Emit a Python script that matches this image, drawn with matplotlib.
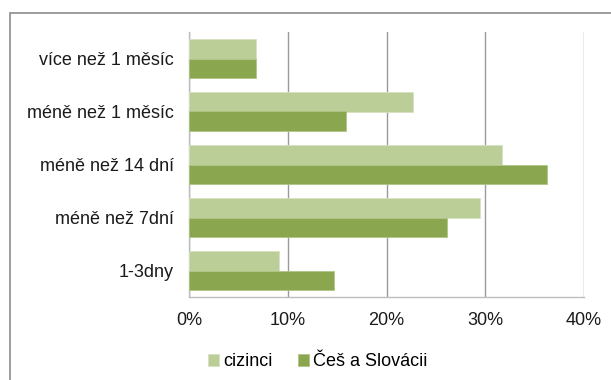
import matplotlib.pyplot as plt
from matplotlib.patches import Rectangle
from matplotlib.ticker import PercentFormatter
import numpy as np

plt.rcParams['font.family'] = ['Liberation Sans', 'DejaVu Sans']

categories = ['1-3dny', 'méně než 7dní', 'méně než 14 dní', 'méně než 1 měsíc', 'více než 1 měsíc']
cizinci = [9.1, 29.5, 31.7, 22.7, 6.8]
cesi = [14.7, 26.1, 36.3, 15.9, 6.8]
series_names = ['cizinci', 'Češ a Slovácii']
light_green = '#BBCE98'
dark_green = '#8AA64E'

fig = plt.figure(figsize=(6.11, 3.80), dpi=100)
ax = fig.add_axes([189 / 611, 1 - 297 / 380, 395 / 611, 265 / 380])

y = np.arange(len(categories))
h = 0.365
ax.barh(y + h / 2, cizinci, height=h, color=light_green, edgecolor='#D5E2C0', linewidth=0.6, label=series_names[0], zorder=3)
ax.barh(y - h / 2, cesi, height=h, color=dark_green, edgecolor='#B0C585', linewidth=0.6, label=series_names[1], zorder=3)

ax.set_xlim(0, 40)
ax.set_ylim(-0.5, len(categories) - 0.5)
ax.set_xticks([0, 10, 20, 30, 40])
ax.xaxis.set_major_formatter(PercentFormatter(decimals=0))
ax.set_yticks(y)
ax.set_yticklabels(categories)
ax.tick_params(axis='both', length=0, labelsize=13, colors='#1a1a1a')
ax.tick_params(axis='x', pad=11)
ax.tick_params(axis='y', pad=11)

ax.grid(axis='x', color='#9a9a9a', linewidth=1.0, zorder=0)
for side in ['top', 'right']:
    ax.spines[side].set_visible(False)
for side in ['left', 'bottom']:
    ax.spines[side].set_color('#bdbdbd')
    ax.spines[side].set_linewidth(1.0)

# outer chart frame, open on the right and bottom
fig.patches.append(Rectangle((9.5 / 611, -0.1), 1.0, 1.1 - 13 / 380,
                             transform=fig.transFigure, fill=False,
                             edgecolor='#8c8c8c', linewidth=1.2))

fig.legend(loc='center', bbox_to_anchor=(318 / 611, 1 - 362 / 380), ncol=2,
           frameon=False, fontsize=13, handlelength=0.6, handleheight=0.6,
           handletextpad=0.25, columnspacing=1.4, borderpad=0)

fig.savefig('out.png', dpi=100)
